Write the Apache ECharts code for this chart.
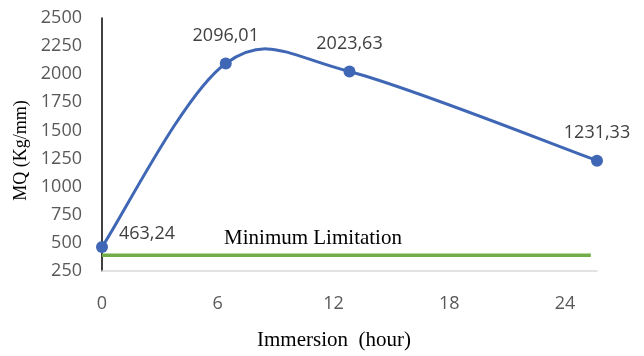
<!DOCTYPE html>
<html>
<head>
<meta charset="utf-8">
<script src="https://cdn.jsdelivr.net/npm/echarts@6/dist/echarts.min.js"></script>
<style>
  html, body { margin: 0; padding: 0; background: #fff; }
  #chart { width: 644px; height: 356px; }
</style>
</head>
<body>
<div id="chart"></div>
<script>
// Immersion time (hours) and measured MQ values
const hours = [0, 6, 12, 24];
const mqValues = [463.24, 2096.01, 2023.63, 1231.33];
const mqLabels = ['463,24', '2096,01', '2023,63', '1231,33'];

// Minimum limitation reference line
const limitHours = [0, 23.7];
const limitValue = 390;
const limitText = 'Minimum Limitation';
const limitTextHour = 10.23;

// Axis ticks
const yMin = 250, yMax = 2500, yStep = 250;
const xTickStep = 6;

const BLUE = '#3F67B5';
const chart = echarts.init(document.getElementById('chart'));

const tickFont = { fontFamily: 'Open Sans', fontSize: 18, color: '#595959' };
const titleFont = { fontFamily: 'Liberation Serif', color: '#000' };

// Smooth curve through the points: cubic Bezier segments with
// Catmull-Rom style control points computed in pixel space.
function renderSegment(params, api) {
  const i = params.dataIndex;
  const n = hours.length;
  const pt = k => {
    const j = Math.max(0, Math.min(n - 1, k));
    return api.coord([hours[j], mqValues[j]]);
  };
  const p0 = pt(i - 1), p1 = pt(i), p2 = pt(i + 1), p3 = pt(i + 2);
  return {
    type: 'bezierCurve',
    shape: {
      x1: p1[0], y1: p1[1],
      x2: p2[0], y2: p2[1],
      cpx1: p1[0] + (p2[0] - p0[0]) / 6,
      cpy1: p1[1] + (p2[1] - p0[1]) / 6,
      cpx2: p2[0] - (p3[0] - p1[0]) / 6,
      cpy2: p2[1] - (p3[1] - p1[1]) / 6
    },
    style: { stroke: BLUE, lineWidth: 3, fill: null, lineCap: 'round' },
    silent: true
  };
}

chart.setOption({
  animation: false,
  grid: { left: 102, right: 47, top: 18, bottom: 83 },
  xAxis: [
    {
      // data axis
      type: 'value', min: 0, max: 24, interval: xTickStep,
      axisLine: { show: true, lineStyle: { color: '#D9D9D9', width: 1.5 } },
      axisTick: { show: false },
      axisLabel: { show: false },
      splitLine: { show: false }
    },
    {
      // hour labels
      type: 'value', min: 0, max: 25.66, interval: xTickStep,
      position: 'bottom',
      axisLine: { show: false },
      axisTick: { show: false },
      splitLine: { show: false },
      axisLabel: Object.assign({ margin: 24, showMaxLabel: false }, tickFont),
      name: 'Immersion  (hour)',
      nameLocation: 'middle',
      nameGap: 59,
      nameTextStyle: Object.assign({ fontSize: 21, padding: [0, 31, 0, 0] }, titleFont)
    }
  ],
  yAxis: {
    type: 'value', min: yMin, max: yMax, interval: yStep,
    axisLine: { show: true, lineStyle: { color: '#000', width: 1.5 } },
    axisTick: { show: false },
    splitLine: { show: false },
    axisLabel: Object.assign({ margin: 20, formatter: v => String(v) }, tickFont),
    name: 'MQ (Kg/mm)',
    nameLocation: 'middle',
    nameGap: 63,
    nameTextStyle: Object.assign({ fontSize: 18, padding: [0, 12, 0, 0] }, titleFont)
  },
  series: [
    {
      type: 'line',
      xAxisIndex: 0,
      data: limitHours.map(h => [h, limitValue]),
      symbol: 'none',
      lineStyle: { color: '#70AD47', width: 3.5 },
      silent: true,
      z: 1,
      markPoint: {
        symbol: 'rect',
        symbolSize: 1,
        itemStyle: { color: 'rgba(0,0,0,0)' },
        data: [{ coord: [limitTextHour, limitValue] }],
        label: {
          show: true,
          position: 'inside',
          formatter: limitText,
          offset: [0, -17],
          fontFamily: 'Liberation Serif',
          fontSize: 21,
          color: '#000'
        }
      }
    },
    {
      type: 'custom',
      xAxisIndex: 0,
      data: hours.slice(0, -1).map((h, i) => [h, mqValues[i]]),
      renderItem: renderSegment,
      clip: false,
      z: 2
    },
    {
      type: 'line',
      xAxisIndex: 0,
      data: hours.map((h, i) => [h, mqValues[i]]),
      symbol: 'circle',
      symbolSize: 12,
      itemStyle: { color: BLUE },
      lineStyle: { width: 0, opacity: 0 },
      z: 3,
      label: {
        show: true,
        position: 'top',
        distance: 13,
        fontFamily: 'Open Sans',
        fontSize: 18,
        color: '#404040',
        formatter: p => mqLabels[p.dataIndex]
      },
      labelLayout: p => p.dataIndex === 0 ? { dx: 45, dy: 15 } : {}
    }
  ]
});
</script>
</body>
</html>
